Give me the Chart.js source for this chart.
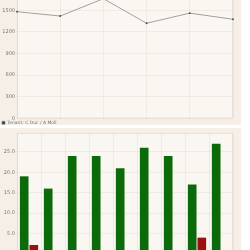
<!DOCTYPE html>
<html>
<head>
<meta charset="utf-8">
<script src="https://cdn.jsdelivr.net/npm/chart.js@4"></script>
<style>
  html, body { margin: 0; padding: 0; background: #ffffff; width: 250px; height: 250px; overflow: hidden; }
  .panel { position: absolute; left: 0; width: 241px; background: #f5efe7; overflow: hidden; }
  #top { top: 0; height: 125px; }
  #bottom { top: 128px; height: 122px; }
  canvas { display: block; }
</style>
</head>
<body>
<div class="panel" id="top"><canvas id="lineChart" width="241" height="155" style="margin-top:-20px"></canvas></div>
<div class="panel" id="bottom"><canvas id="barChart" width="241" height="134"></canvas></div>
<script>
// top chart data
const lineLabels = ["Jan", "Feb", "Mar", "Apr", "May", "Jun"];
const lineValues = [1480, 1420, 1660, 1320, 1460, 1375];
const lineSeriesName = "Tenant: C Duc / A Moll";

// bottom chart data
const barLabels = ["1", "2", "3", "4", "5", "6", "7", "8", "9"];
const greenValues = [19, 16, 24, 24, 21, 26, 24, 17, 27];
const redValues = [2.2, 0, 0, 0.2, 0, 0.2, 0, 4, 0.2];

Chart.defaults.font.family = "DejaVu Sans";
Chart.defaults.font.size = 5;
Chart.defaults.color = "#777";

const gridColor = "rgba(215, 198, 178, 0.22)";

// light plot background with thin border
const plotBg = {
  id: "plotBg",
  beforeDraw: (chart) => {
    const { ctx, chartArea: a } = chart;
    ctx.save();
    ctx.fillStyle = "#faf7f2";
    ctx.fillRect(a.left, a.top, a.right - a.left, a.bottom - a.top);
    ctx.strokeStyle = "#e8e0d6";
    ctx.lineWidth = 1;
    ctx.strokeRect(a.left + 0.5, a.top + 0.5, a.right - a.left - 1, a.bottom - a.top - 1);
    ctx.restore();
  },
};

new Chart(document.getElementById("lineChart"), {
  type: "line",
  data: {
    labels: lineLabels,
    datasets: [
      {
        label: lineSeriesName,
        data: lineValues,
        borderColor: "#8a8a8a",
        backgroundColor: "#333",
        borderWidth: 0.8,
        pointRadius: 0.9,
        pointBackgroundColor: "#444",
        pointBorderWidth: 0,
        tension: 0,
      },
    ],
  },
  options: {
    responsive: false,
    animation: false,
    layout: { padding: { top: 8.6, right: 8, left: 0, bottom: 0 } },
    plugins: {
      legend: {
        position: "bottom",
        align: "start",
        labels: { boxWidth: 3, boxHeight: 3, padding: 2, color: "#777", font: { size: 4.5 } },
      },
      tooltip: { enabled: false },
    },
    scales: {
      x: {
        ticks: { display: false },
        grid: { color: gridColor, drawTicks: false },
        border: { display: false },
      },
      y: {
        min: 0,
        max: 1800,
        ticks: {
          stepSize: 300,
          padding: 2,
          callback: (v) => (v <= 1500 ? v : null),
        },
        grid: { color: gridColor, drawTicks: false },
        border: { display: false },
        afterFit: (scale) => { scale.width = 17; },
      },
    },
  },
  plugins: [plotBg],
});

new Chart(document.getElementById("barChart"), {
  type: "bar",
  data: {
    labels: barLabels,
    datasets: [
      { label: "A", data: greenValues, backgroundColor: "#0b6b0b" },
      { label: "B", data: redValues, backgroundColor: "#9e1010" },
    ],
  },
  options: {
    responsive: false,
    animation: false,
    layout: { padding: { top: 3, right: 8, left: 0, bottom: 8 } },
    plugins: { legend: { display: false }, tooltip: { enabled: false } },
    scales: {
      x: {
        ticks: { display: false },
        grid: { color: gridColor, drawTicks: false },
        border: { display: false },
      },
      y: {
        min: 0,
        max: 29.6,
        ticks: {
          stepSize: 5,
          padding: 2,
          callback: (v) => (v % 5 === 0 && v > 0 ? v.toFixed(1) : null),
        },
        grid: { color: gridColor, drawTicks: false },
        border: { display: false },
        afterFit: (scale) => { scale.width = 17; },
      },
    },
  },
  plugins: [plotBg],
});
</script>
</body>
</html>
